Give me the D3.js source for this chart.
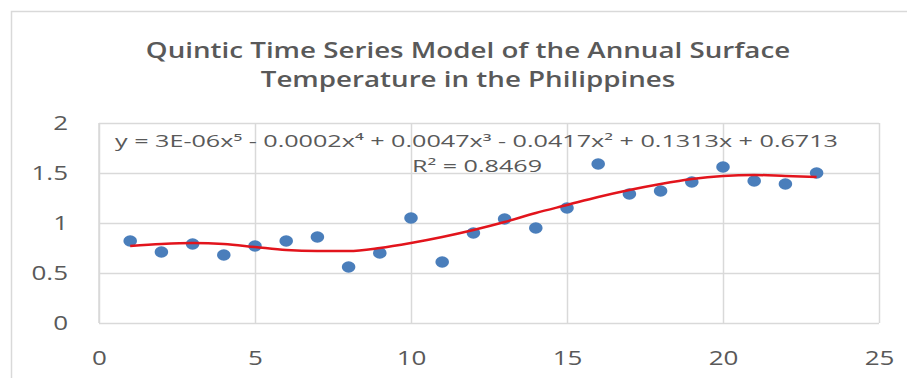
<!DOCTYPE html>
<html>
<head>
<meta charset="utf-8">
<script src="https://cdn.jsdelivr.net/npm/d3@7"></script>
<style>
  body { margin: 0; background: #fff; }
  text { font-family: "Open Sans", "DejaVu Sans", sans-serif; fill: #595959; }
</style>
</head>
<body>
<div id="wrapper"></div>
<script>
// year index (x) and temperature anomaly (y)
const years = [1, 2, 3, 4, 5, 6, 7, 8, 9, 10, 11, 12, 13, 14, 15, 16, 17, 18, 19, 20, 21, 22, 23];
const temps = [0.82, 0.71, 0.79, 0.68, 0.77, 0.82, 0.86, 0.56, 0.70, 1.05, 0.61, 0.90,
               1.04, 0.95, 1.15, 1.59, 1.29, 1.32, 1.41, 1.56, 1.42, 1.39, 1.50];
// quintic trendline at each x
const trend = [0.77, 0.79, 0.80, 0.79, 0.76, 0.73, 0.72, 0.72, 0.75, 0.80, 0.86, 0.93,
               1.01, 1.10, 1.18, 1.26, 1.33, 1.39, 1.44, 1.47, 1.48, 1.47, 1.46];
const x_ticks = [0, 5, 10, 15, 20, 25];
const y_ticks = [0, 0.5, 1, 1.5, 2];
const title_lines = ["Quintic Time Series Model of the Annual Surface", "Temperature in the Philippines"];
const equation = "y = 3E-06x⁵ - 0.0002x⁴ + 0.0047x³ - 0.0417x² + 0.1313x + 0.6713";
const r_squared = "R² = 0.8469";

// the source picture is stretched sideways, so widen text to match
function stretch(selection, factor) {
    selection.each(function () {
        const len = this.getComputedTextLength();
        d3.select(this)
            .attr("textLength", len * factor)
            .attr("lengthAdjust", "spacingAndGlyphs");
    });
}

function drawChart() {
    const dimensions = {
        width: 907,
        height: 378,
        margin: { top: 123, right: 28, bottom: 55, left: 99 }
    };
    dimensions.bounded_width = dimensions.width - dimensions.margin.left - dimensions.margin.right;
    dimensions.bounded_height = dimensions.height - dimensions.margin.top - dimensions.margin.bottom;

    const wrapper = d3.select("#wrapper")
        .append("svg")
        .attr("width", dimensions.width)
        .attr("height", dimensions.height);

    // chart frame
    wrapper.append("rect")
        .attr("x", 11.5)
        .attr("y", 11.5)
        .attr("width", 920)
        .attr("height", 400)
        .attr("fill", "none")
        .attr("stroke", "#d9d9d9")
        .attr("stroke-width", 1.5);

    wrapper.selectAll(".title")
        .data(title_lines)
        .enter().append("text")
        .attr("class", "title")
        .attr("x", 468)
        .attr("y", (d, i) => 58 + i * 29)
        .attr("text-anchor", "middle")
        .style("font-size", "22px")
        .style("font-weight", 600)
        .text(d => d)
        .call(stretch, 1.26);

    const bounds = wrapper.append("g")
        .attr("transform", `translate(${dimensions.margin.left},${dimensions.margin.top})`);

    const x_scale = d3.scaleLinear()
        .domain([0, 25])
        .range([0, dimensions.bounded_width]);

    const y_scale = d3.scaleLinear()
        .domain([0, 2])
        .range([dimensions.bounded_height, 0]);

    // gridlines + tick labels
    const x_axis = bounds.append("g")
        .attr("transform", `translate(0,${dimensions.bounded_height})`)
        .call(d3.axisBottom(x_scale).tickValues(x_ticks).tickSize(-dimensions.bounded_height).tickPadding(28));
    const y_axis = bounds.append("g")
        .call(d3.axisLeft(y_scale).tickValues(y_ticks).tickSize(-dimensions.bounded_width).tickPadding(31)
            .tickFormat(d3.format("")));

    [x_axis, y_axis].forEach(axis => {
        axis.select(".domain").remove();
        axis.selectAll(".tick line").attr("stroke", "#d9d9d9").attr("stroke-width", 1.5);
        axis.selectAll(".tick text")
            .attr("fill", "#595959")
            .style("font-size", "20px")
            .call(stretch, 1.3);
    });
    // left edge of plot area
    bounds.append("line")
        .attr("x1", x_scale(0)).attr("x2", x_scale(0))
        .attr("y1", y_scale(0)).attr("y2", y_scale(2))
        .attr("stroke", "#d9d9d9").attr("stroke-width", 1.5);

    const points = years.map((d, i) => ({ x: d, y: temps[i], t: trend[i] }));

    bounds.selectAll("ellipse")
        .data(points)
        .enter().append("ellipse")
        .attr("cx", d => x_scale(d.x))
        .attr("cy", d => y_scale(d.y))
        .attr("rx", 6.8)
        .attr("ry", 5.8)
        .attr("fill", "#4a7ebb");

    const trend_line = d3.line()
        .x(d => x_scale(d.x))
        .y(d => y_scale(d.t))
        .curve(d3.curveMonotoneX);

    bounds.append("path")
        .datum(points)
        .attr("d", trend_line)
        .attr("fill", "none")
        .attr("stroke", "#e2141c")
        .attr("stroke-width", 2.5);

    // trendline label
    wrapper.append("text")
        .attr("x", 115)
        .attr("y", 147)
        .attr("textLength", 723)
        .attr("lengthAdjust", "spacingAndGlyphs")
        .style("font-size", "16px")
        .text(equation);
    wrapper.append("text")
        .attr("x", 412)
        .attr("y", 172)
        .attr("textLength", 130)
        .attr("lengthAdjust", "spacingAndGlyphs")
        .style("font-size", "16px")
        .text(r_squared);
}

drawChart();
</script>
</body>
</html>
